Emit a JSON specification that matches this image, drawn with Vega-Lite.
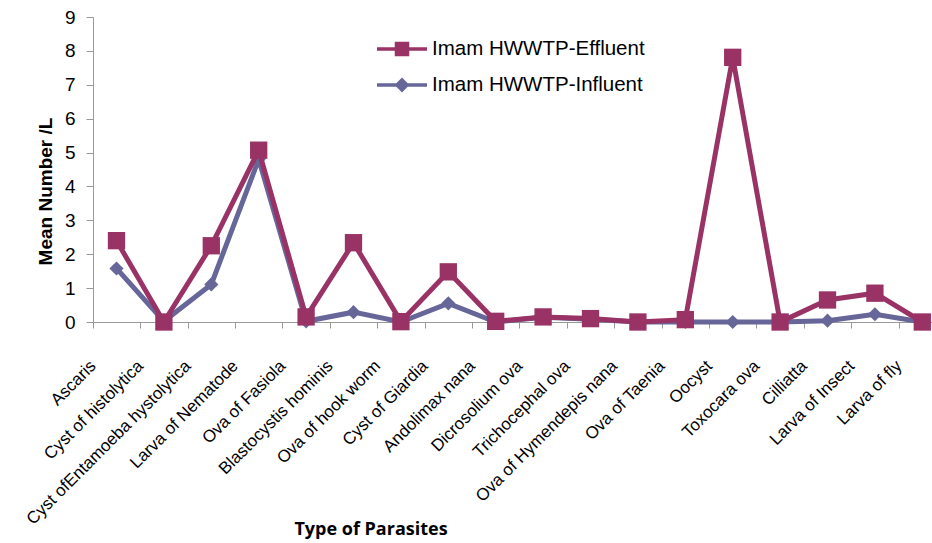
{
  "$schema": "https://vega.github.io/schema/vega-lite/v6.json",
  "width": 839,
  "height": 305,
  "autosize": {"type": "none"},
  "padding": {"left": 93, "top": 17, "right": 0, "bottom": 221},
  "background": "white",
  "config": {"view": {"stroke": null}, "font": "Liberation Sans"},
  "data": {
    "values": [
      {"parasite": "Ascaris", "series": "Imam HWWTP-Effluent", "value": 2.4},
      {"parasite": "Cyst of histolytica", "series": "Imam HWWTP-Effluent", "value": 0},
      {"parasite": "Cyst ofEntamoeba hystolytica", "series": "Imam HWWTP-Effluent", "value": 2.25},
      {"parasite": "Larva of Nematode", "series": "Imam HWWTP-Effluent", "value": 5.07},
      {"parasite": "Ova of Fasiola", "series": "Imam HWWTP-Effluent", "value": 0.15},
      {"parasite": "Blastocystis hominis", "series": "Imam HWWTP-Effluent", "value": 2.34},
      {"parasite": "Ova of hook worm", "series": "Imam HWWTP-Effluent", "value": 0.01},
      {"parasite": "Cyst of Giardia", "series": "Imam HWWTP-Effluent", "value": 1.48},
      {"parasite": "Andolimax nana", "series": "Imam HWWTP-Effluent", "value": 0.02},
      {"parasite": "Dicrosolium ova", "series": "Imam HWWTP-Effluent", "value": 0.15},
      {"parasite": "Trichocephal ova", "series": "Imam HWWTP-Effluent", "value": 0.1},
      {"parasite": "Ova of Hymendepis nana", "series": "Imam HWWTP-Effluent", "value": 0},
      {"parasite": "Ova of Taenia", "series": "Imam HWWTP-Effluent", "value": 0.07},
      {"parasite": "Oocyst", "series": "Imam HWWTP-Effluent", "value": 7.81},
      {"parasite": "Toxocara ova", "series": "Imam HWWTP-Effluent", "value": 0},
      {"parasite": "Cilliatta", "series": "Imam HWWTP-Effluent", "value": 0.65},
      {"parasite": "Larva of Insect", "series": "Imam HWWTP-Effluent", "value": 0.85},
      {"parasite": "Larva of fly", "series": "Imam HWWTP-Effluent", "value": 0},
      {"parasite": "Ascaris", "series": "Imam HWWTP-Influent", "value": 1.58},
      {"parasite": "Cyst of histolytica", "series": "Imam HWWTP-Influent", "value": 0.02},
      {"parasite": "Cyst ofEntamoeba hystolytica", "series": "Imam HWWTP-Influent", "value": 1.11},
      {"parasite": "Larva of Nematode", "series": "Imam HWWTP-Influent", "value": 4.8},
      {"parasite": "Ova of Fasiola", "series": "Imam HWWTP-Influent", "value": 0.02},
      {"parasite": "Blastocystis hominis", "series": "Imam HWWTP-Influent", "value": 0.29},
      {"parasite": "Ova of hook worm", "series": "Imam HWWTP-Influent", "value": 0},
      {"parasite": "Cyst of Giardia", "series": "Imam HWWTP-Influent", "value": 0.55},
      {"parasite": "Andolimax nana", "series": "Imam HWWTP-Influent", "value": 0},
      {"parasite": "Dicrosolium ova", "series": "Imam HWWTP-Influent", "value": 0.14},
      {"parasite": "Trichocephal ova", "series": "Imam HWWTP-Influent", "value": 0.08},
      {"parasite": "Ova of Hymendepis nana", "series": "Imam HWWTP-Influent", "value": 0},
      {"parasite": "Ova of Taenia", "series": "Imam HWWTP-Influent", "value": 0},
      {"parasite": "Oocyst", "series": "Imam HWWTP-Influent", "value": 0},
      {"parasite": "Toxocara ova", "series": "Imam HWWTP-Influent", "value": 0},
      {"parasite": "Cilliatta", "series": "Imam HWWTP-Influent", "value": 0.04},
      {"parasite": "Larva of Insect", "series": "Imam HWWTP-Influent", "value": 0.23},
      {"parasite": "Larva of fly", "series": "Imam HWWTP-Influent", "value": 0}
    ]
  },
  "encoding": {
    "x": {
      "field": "parasite",
      "type": "nominal",
      "scale": {
        "type": "point",
        "domain": ["Ascaris", "Cyst of histolytica", "Cyst ofEntamoeba hystolytica", "Larva of Nematode", "Ova of Fasiola", "Blastocystis hominis", "Ova of hook worm", "Cyst of Giardia", "Andolimax nana", "Dicrosolium ova", "Trichocephal ova", "Ova of Hymendepis nana", "Ova of Taenia", "Oocyst", "Toxocara ova", "Cilliatta", "Larva of Insect", "Larva of fly"],
        "padding": 0.35,
        "align": 0.708
      },
      "axis": {
        "title": "Type of Parasites",
        "titleFont": "Open Sans",
        "titleFontSize": 18,
        "titleFontWeight": "bold",
        "titleColor": "black",
        "titleX": 277.5,
        "titleY": 212,
        "titleAlign": "center",
        "titleBaseline": "alphabetic",
        "labelAngle": -45,
        "labelAlign": "right",
        "labelBaseline": "middle",
        "labelPadding": 35,
        "labelFontSize": 17,
        "labelColor": "black",
        "labelLimit": 400,
        "labelOverlap": false,
        "labelBound": false,
        "tickOffset": -23.7,
        "tickSize": 6,
        "tickColor": "#999999",
        "domainColor": "#999999",
        "grid": false
      }
    },
    "y": {
      "field": "value",
      "type": "quantitative",
      "scale": {"domain": [0, 9], "nice": false},
      "axis": {
        "title": "Mean Number /L",
        "titleFontSize": 19,
        "titleFontWeight": "bold",
        "titleColor": "black",
        "titleX": -48,
        "titleY": 174,
        "titleAngle": -90,
        "titleAlign": "center",
        "titleBaseline": "middle",
        "values": [0, 1, 2, 3, 4, 5, 6, 7, 8, 9],
        "labelFontSize": 19,
        "labelColor": "black",
        "labelPadding": 11,
        "tickSize": 7,
        "tickColor": "#999999",
        "domainColor": "#999999",
        "grid": false
      }
    },
    "color": {
      "field": "series",
      "type": "nominal",
      "scale": {"domain": ["Imam HWWTP-Effluent", "Imam HWWTP-Influent"], "range": ["#993366", "#666699"]},
      "legend": {
        "title": null,
        "orient": "none",
        "legendX": 297,
        "legendY": 20,
        "padding": 0,
        "rowPadding": 11,
        "symbolSize": 400,
        "labelFontSize": 20.5,
        "labelColor": "black",
        "labelOffset": 18,
        "labelLimit": 500,
        "labelFont": "Liberation Sans",
        "symbolStrokeWidth": 3,
        "encode": {
          "symbols": {
            "update": {
              "shape": {"signal": "datum.value === 'Imam HWWTP-Effluent' ? 'M-2.5,0H2.5M-0.55,-0.55H0.55V0.55H-0.55Z' : 'M-2.5,0H2.5M0,-0.5L0.5,0L0,0.5L-0.5,0Z'"},
              "fill": {"scale": "color", "field": "value"},
              "stroke": {"scale": "color", "field": "value"},
              "opacity": {"value": 1},
              "strokeWidth": {"value": 3.5}
            }
          }
        }
      }
    }
  },
  "layer": [
    {
      "transform": [{"filter": "datum.series === 'Imam HWWTP-Influent'"}],
      "mark": {"type": "line", "strokeWidth": 5}
    },
    {
      "transform": [{"filter": "datum.series === 'Imam HWWTP-Influent'"}],
      "mark": {"type": "point", "shape": "diamond", "filled": true, "size": 200, "opacity": 1}
    },
    {
      "transform": [{"filter": "datum.series === 'Imam HWWTP-Effluent'"}],
      "mark": {"type": "line", "strokeWidth": 5}
    },
    {
      "transform": [{"filter": "datum.series === 'Imam HWWTP-Effluent'"}],
      "mark": {"type": "point", "shape": "square", "filled": true, "size": 300, "opacity": 1}
    }
  ]
}
